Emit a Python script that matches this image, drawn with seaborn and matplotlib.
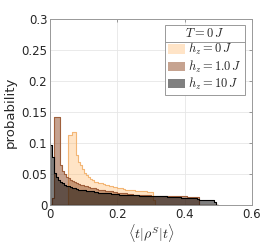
import numpy as np
import pandas as pd
import matplotlib
matplotlib.use("Agg")
import matplotlib.pyplot as plt
import seaborn as sns
from matplotlib.patches import Patch
from matplotlib.lines import Line2D

# histogram bin edges (common bin width 0.006)
bin_width = 0.006
n_bins = 83

# probability per bin
p_hz0 = [0, 0, 0, 0, 0, 0, 0, 0, 0, 0.113,
         0.113, 0.118, 0.118, 0.081, 0.070, 0.064, 0.058, 0.052, 0.048, 0.045,
         0.042, 0.040, 0.038, 0.037, 0.036, 0.035, 0.034, 0.033, 0.032, 0.031,
         0.030, 0.029, 0.029, 0.028, 0.027, 0.027, 0.026, 0.025, 0.025, 0.024,
         0.024, 0.024, 0.023, 0.023, 0.023, 0.022, 0.022, 0.022, 0.021, 0.021,
         0.021, 0.008, 0, 0, 0, 0, 0, 0, 0, 0,
         0, 0, 0, 0, 0, 0, 0, 0, 0, 0,
         0, 0, 0, 0, 0, 0, 0, 0, 0, 0,
         0, 0, 0]
p_hz1 = [0, 0.012, 0.142, 0.142, 0.142, 0.065, 0.055, 0.050, 0.046, 0.043,
         0.041, 0.039, 0.037, 0.036, 0.034, 0.033, 0.032, 0.031, 0.030, 0.029,
         0.028, 0.027, 0.027, 0.026, 0.025, 0.025, 0.024, 0.023, 0.023, 0.022,
         0.022, 0.021, 0.021, 0.020, 0.020, 0.019, 0.019, 0.019, 0.018, 0.018,
         0.018, 0.017, 0.017, 0.017, 0.017, 0.016, 0.016, 0.016, 0.016, 0.016,
         0.015, 0.015, 0.015, 0.015, 0.015, 0.015, 0.015, 0.015, 0.015, 0.015,
         0.014, 0.014, 0.014, 0.014, 0.014, 0.014, 0.014, 0.014, 0.013, 0.013,
         0.013, 0.013, 0.013, 0.013, 0, 0, 0, 0, 0, 0,
         0, 0, 0]
p_hz10 = [0.097, 0.078, 0.051, 0.045, 0.041, 0.038, 0.035, 0.033, 0.031, 0.030,
          0.029, 0.028, 0.027, 0.026, 0.025, 0.025, 0.024, 0.024, 0.023, 0.023,
          0.022, 0.022, 0.021, 0.021, 0.020, 0.020, 0.020, 0.019, 0.019, 0.019,
          0.018, 0.018, 0.018, 0.018, 0.017, 0.017, 0.017, 0.017, 0.016, 0.016,
          0.016, 0.016, 0.016, 0.016, 0.015, 0.015, 0.015, 0.015, 0.015, 0.015,
          0.015, 0.014, 0.014, 0.014, 0.014, 0.014, 0.014, 0.014, 0.013, 0.013,
          0.013, 0.013, 0.013, 0.013, 0.013, 0.012, 0.012, 0.012, 0.012, 0.012,
          0.012, 0.011, 0.011, 0.010, 0.009, 0.009, 0.009, 0.009, 0.009, 0.009,
          0.009, 0.005, 0]

labels = [r'$h_z = 0\,J$', r'$h_z = 1.0\,J$', r'$h_z = 10\,J$']
face_colors = [(1.0, 0.72, 0.42), (0.55, 0.28, 0.13), (0.0, 0.0, 0.0)]
face_alpha = [0.38, 0.5, 0.5]
edge_colors = ['#F3B675', '#A0603C', '#000000']

edges = [round(i * bin_width, 4) for i in range(n_bins + 1)]
centers = [e + bin_width / 2 for e in edges[:-1]]

sns.set_theme(style='white')
plt.rcParams['font.family'] = ['DejaVu Sans']
plt.rcParams['mathtext.fontset'] = 'cm'

fig = plt.figure(figsize=(2.78, 2.43), dpi=100)
ax = fig.add_axes([0.18, 0.156, 0.726, 0.766])

for vals, fc, a, ec in zip([p_hz0, p_hz1, p_hz10], face_colors, face_alpha, edge_colors):
    df = pd.DataFrame({'x': centers, 'w': vals})
    sns.histplot(data=df, x='x', weights='w', bins=edges, element='step', fill=True,
                 color=fc, alpha=a, edgecolor=ec, linewidth=0.8, ax=ax)

ax.set_xlim(0, 0.6)
ax.set_ylim(0, 0.3)
ax.set_xticks([0, 0.2, 0.4, 0.6])
ax.set_xticklabels(['0', '0.2', '0.4', '0.6'])
ax.set_yticks([0, 0.05, 0.1, 0.15, 0.2, 0.25, 0.3])
ax.set_yticklabels(['0', '0.05', '0.1', '0.15', '0.2', '0.25', '0.3'])
ax.tick_params(direction='in', length=2.5, width=0.6, colors='#888888',
               labelcolor='#262626', labelsize=8.5, top=True, right=True, pad=2)
ax.grid(True, color='#e6e6e6', linewidth=0.6)
ax.set_axisbelow(True)
for s in ax.spines.values():
    s.set_color('#999999')
    s.set_linewidth(0.7)

ax.set_ylabel('probability', fontsize=9.5, color='#262626', labelpad=3)
ax.set_xlabel(r'$\langle t|\rho^S|t\rangle$', fontsize=10, color='#262626', labelpad=1)

handles = []
for fc, a in zip(face_colors, face_alpha):
    blended = tuple(1 - a * (1 - c) for c in fc)
    handles.append(Patch(facecolor=blended, edgecolor='none'))
leg = ax.legend(handles, labels, title=r'$T = 0\,J$', loc='upper right',
                bbox_to_anchor=(0.965, 0.97), fontsize=9, title_fontsize=9,
                frameon=True, fancybox=False, framealpha=1, edgecolor='#999999',
                handlelength=1.4, handleheight=0.8, handletextpad=0.25,
                borderpad=0.2, labelspacing=0.1, borderaxespad=0)
leg.get_frame().set_linewidth(0.7)

# separator line under the legend title
fig.canvas.draw()
r = fig.canvas.get_renderer()
lb = leg.get_window_extent(r)
tb = leg.get_title().get_window_extent(r)
ysep = (tb.y0 - 2) / fig.bbox.height
fig.add_artist(Line2D([lb.x0 / fig.bbox.width, lb.x1 / fig.bbox.width], [ysep, ysep],
                      transform=fig.transFigure, color='#999999', linewidth=0.7))

fig.savefig('out.png', dpi=100)
